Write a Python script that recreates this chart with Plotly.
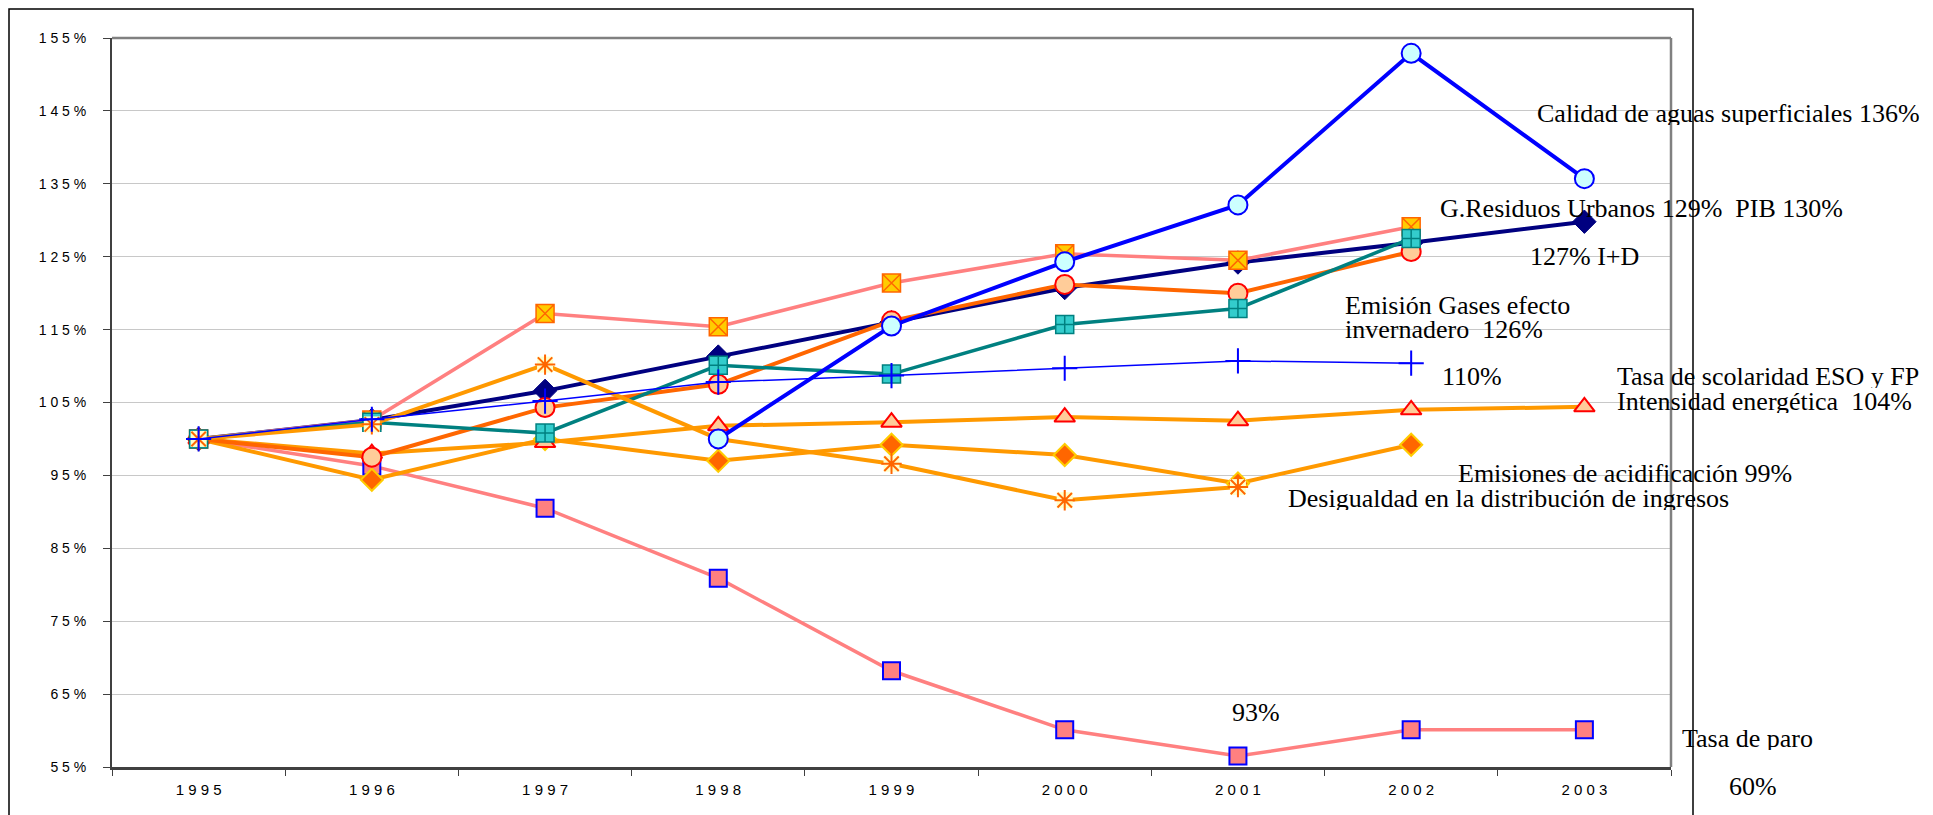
import plotly.graph_objects as go

# ---------------- data ----------------
years = [1995, 1996, 1997, 1998, 1999, 2000, 2001, 2002, 2003]
year_labels = ["1 9 9 5", "1 9 9 6", "1 9 9 7", "1 9 9 8", "1 9 9 9",
               "2 0 0 0", "2 0 0 1", "2 0 0 2", "2 0 0 3"]
y_ticks = [55, 65, 75, 85, 95, 105, 115, 125, 135, 145, 155]
y_tick_labels = ["5 5 %", "6 5 %", "7 5 %", "8 5 %", "9 5 %", "1 0 5 %",
                 "1 1 5 %", "1 2 5 %", "1 3 5 %", "1 4 5 %", "1 5 5 %"]

calidad_aguas = [None, None, None, 100.0, 115.5, 124.3, 132.1, 152.9, 135.7]
pib = [100, 102.6, 106.6, 111.3, 116.0, 120.7, 124.2, 126.9, 129.8]
residuos_urbanos = [100, 102.6, 117.2, 115.4, 121.4, 125.4, 124.5, 129.1, None]
i_mas_d = [100, 97.5, 104.3, 107.5, 116.2, 121.2, 120.0, 125.7, None]
gases_invernadero = [100, 102.3, 100.8, 110.1, 108.9, 115.7, 117.9, 127.5, None]
escolaridad = [100, 102.7, 105.2, 107.8, 108.7, 109.7, 110.7, 110.4, None]
intensidad_energetica = [100, 98.0, 99.5, 101.8, 102.3, 103.0, 102.5, 104.0, 104.4]
acidificacion = [100, 94.4, 100.0, 97.0, 99.2, 97.8, 93.9, 99.2, None]
desigualdad = [100, 102.0, 110.2, 100.0, 96.6, 91.6, 93.4, None, None]
tasa_paro = [100, 96.3, 90.5, 80.9, 68.2, 60.1, 56.5, 60.1, 60.1]

# label text, left edge x and vertical centre y (screen pixels)
labels = [
    ("Calidad de aguas superficiales 136%", 1535, 113),
    ("G.Residuos Urbanos 129%\u00a0 PIB 130%", 1438, 208),
    ("127% I+D", 1528, 256),
    ("Emisión Gases efecto", 1343, 305),
    ("invernadero\u00a0 126%", 1343, 329),
    ("110%", 1440, 376),
    ("Tasa de scolaridad ESO y FP", 1615, 376),
    ("Intensidad energética\u00a0 104%", 1615, 401),
    ("Emisiones de acidificación 99%", 1456, 473),
    ("Desigualdad en la distribución de ingresos", 1286, 498),
    ("93%", 1230, 712),
    ("Tasa de paro", 1680, 738),
    ("60%", 1727, 786),
]

# ---------------- layout geometry ----------------
W, H = 1933, 815
OFF = 8  # page body margin
ML, MR, MT, MB = 104, 270, 30, 56
PW, PH = W - ML - MR, H - MT - MB


def px(x):
    return (x - OFF - ML) / PW


def py(y):
    return (H - MB - (y - OFF)) / PH


fig = go.Figure()


def add(name, vals, lcolor, lwidth, symbol, size, fill, mline, mlw):
    fig.add_trace(go.Scatter(
        x=years, y=vals, name=name, mode="lines+markers",
        line=dict(color=lcolor, width=lwidth),
        marker=dict(symbol=symbol, size=size, color=fill,
                    line=dict(color=mline, width=mlw)),
        showlegend=False))


add("Tasa de paro", tasa_paro, "#FF8080", 3.5, "square", 17, "#FF8080", "#0000FF", 2)
add("Emisiones de acidificación", acidificacion, "#FF9900", 4, "diamond", 17, "#FF6600", "#FFCC00", 2)
add("Intensidad energética", intensidad_energetica, "#FF9900", 4, "triangle-up", 18, "#FFCC99", "#FF0000", 2)
add("PIB", pib, "#000080", 4, "diamond", 18, "#000080", "#000080", 1)
add("I+D", i_mas_d, "#FF6600", 4, "circle", 19, "#FFCC99", "#FF0000", 2)
add("G.Residuos Urbanos", residuos_urbanos, "#FF8080", 3.5, "square-x", 18, "#FFCC00", "#FF6600", 1.5)
add("Emisión Gases efecto invernadero", gases_invernadero, "#008080", 3.5, "square-cross", 18, "#33CCCC", "#008080", 1.5)
add("Desigualdad en la distribución de ingresos", desigualdad, "#FF9900", 4, "square", 16, "#FFFFCC", "#FFFFCC", 0)
fig.add_trace(go.Scatter(
    x=years, y=desigualdad, mode="markers", showlegend=False, hoverinfo="skip",
    marker=dict(symbol="asterisk-open", size=17, color="#FF6600",
                line=dict(color="#FF6600", width=2))))
add("Tasa de scolaridad ESO y FP", escolaridad, "#0000FF", 1.5, "cross-thin-open", 18, "#0000FF", "#0000FF", 2)
add("Calidad de aguas superficiales", calidad_aguas, "#0000FF", 4, "circle", 19, "#CCFFFF", "#0000FF", 2)

annotations = [
    dict(text=t, x=px(x), y=py(y), xref="paper", yref="paper",
         xanchor="left", yanchor="middle", showarrow=False, height=24,
         font=dict(family="Liberation Serif, Times New Roman, serif", size=26, color="#000000"))
    for t, x, y in labels
]

shapes = [
    # gray top and right plot border
    dict(type="line", xref="paper", yref="paper", x0=0, x1=1, y0=1, y1=1,
         line=dict(color="#808080", width=2.5)),
    dict(type="line", xref="paper", yref="paper", x0=1, x1=1, y0=0, y1=1,
         line=dict(color="#808080", width=2.5)),
    # outer frame
    dict(type="rect", xref="paper", yref="paper", x0=px(9), x1=px(1693),
         y0=py(850), y1=py(9), line=dict(color="#000000", width=1.5),
         fillcolor="rgba(0,0,0,0)"),
]

fig.update_layout(
    width=W, height=H,
    margin=dict(l=ML, r=MR, t=MT, b=MB, pad=0),
    paper_bgcolor="white", plot_bgcolor="white",
    showlegend=False,
    annotations=annotations,
    shapes=shapes,
    xaxis=dict(
        range=[1994.5, 2003.5], tickmode="array", tickvals=years, ticktext=year_labels,
        ticks="", showgrid=False, zeroline=False,
        showline=True, linecolor="#404040", linewidth=3,
        tickfont=dict(family="Liberation Sans, Arial, sans-serif", size=15, color="#000000"),
        ticklabelstandoff=7,
        minor=dict(ticks="outside", tick0=1994.5, dtick=1, ticklen=6,
                   tickcolor="#404040", tickwidth=1, showgrid=False),
    ),
    yaxis=dict(
        range=[55, 155], tickmode="array", tickvals=y_ticks, ticktext=y_tick_labels,
        ticks="outside", ticklen=7, tickcolor="#404040", tickwidth=1,
        showgrid=True, gridcolor="#C8C8C8", gridwidth=1, zeroline=False,
        showline=True, linecolor="#404040", linewidth=2,
        tickfont=dict(family="Liberation Sans, Arial, sans-serif", size=14, color="#000000"),
        ticklabelstandoff=14,
    ),
)

fig.write_html("out.html")
